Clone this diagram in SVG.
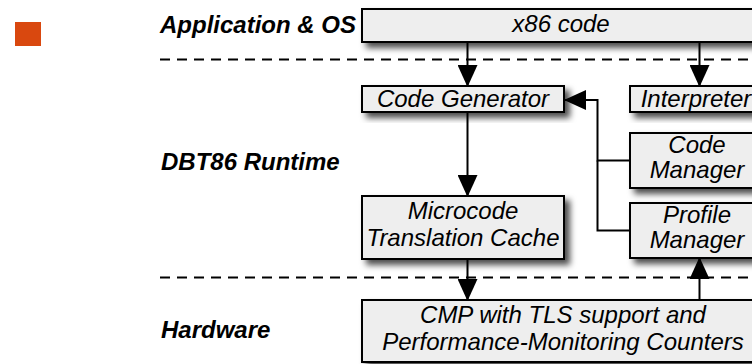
<svg xmlns="http://www.w3.org/2000/svg" width="752" height="364" viewBox="0 0 752 364">
<defs>
<filter id="sh" x="-10%" y="-20%" width="130%" height="160%">
<feDropShadow dx="5" dy="5" stdDeviation="3" flood-color="#000" flood-opacity="0.7"/>
</filter>
<marker id="ah" viewBox="0 0 22 20" refX="21" refY="10" markerWidth="22" markerHeight="20" markerUnits="userSpaceOnUse" orient="auto">
<path d="M0,0 L22,10 L0,20 z" fill="#000"/>
</marker>
</defs>
<style>
.box{fill:#EEEEEE;stroke:#000;stroke-width:2;filter:url(#sh)}
.t{font-family:"Liberation Sans",Arial,sans-serif;font-style:italic;font-size:24px;fill:#000;text-anchor:middle}
.lab{font-family:"Liberation Sans",Arial,sans-serif;font-style:italic;font-weight:bold;font-size:24px;fill:#000}
.dash{stroke:#000;stroke-width:2;stroke-dasharray:10 7;fill:none}
.c{stroke:#000;stroke-width:2;fill:none}
.ca{stroke:#000;stroke-width:2;fill:none;marker-end:url(#ah)}
</style>
<rect x="15" y="22" width="26" height="24" fill="#D9480F"/>
<text class="lab" x="160" y="33">Application &amp; OS</text>
<text class="lab" x="161" y="170">DBT86 Runtime</text>
<text class="lab" x="161" y="338">Hardware</text>
<line class="dash" x1="160" y1="59.5" x2="752" y2="59.5"/>
<line class="dash" x1="160" y1="277.5" x2="752" y2="277.5"/>
<g id="x86">
<rect class="box" x="362" y="9" width="400" height="33"/>
<text class="t" x="561" y="32">x86 code</text>
</g>
<g id="codegen">
<rect class="box" x="362" y="86" width="202" height="26"/>
<text class="t" x="463" y="107">Code Generator</text>
</g>
<g id="interp">
<rect class="box" x="630" y="86" width="140" height="26"/>
<text class="t" x="696" y="107">Interpreter</text>
</g>
<g id="codemgr">
<rect class="box" x="630" y="133" width="140" height="55"/>
<text class="t" x="697" y="153">Code</text>
<text class="t" x="697" y="178">Manager</text>
</g>
<g id="profmgr">
<rect class="box" x="630" y="203" width="140" height="55"/>
<text class="t" x="697" y="223">Profile</text>
<text class="t" x="697" y="248">Manager</text>
</g>
<g id="cache">
<rect class="box" x="362" y="196" width="202" height="63"/>
<text class="t" x="463" y="219">Microcode</text>
<text class="t" x="463" y="246">Translation Cache</text>
</g>
<g id="cmp">
<rect class="box" x="362" y="300" width="400" height="62"/>
<text class="t" x="563" y="323">CMP with TLS support and</text>
<text class="t" x="563" y="350">Performance-Monitoring Counters</text>
</g>
<g id="connectors">
<line class="ca" x1="467.5" y1="42" x2="467.5" y2="86"/>
<line class="ca" x1="699.5" y1="42" x2="699.5" y2="86"/>
<line class="ca" x1="467.5" y1="112" x2="467.5" y2="196"/>
<line class="ca" x1="467.5" y1="259" x2="467.5" y2="300"/>
<line class="ca" x1="699.5" y1="300" x2="699.5" y2="258"/>
<polyline class="ca" points="630,160.5 597.5,160.5 597.5,100 565,100"/>
<polyline class="c" points="630,230.5 597.5,230.5 597.5,160.5"/>
</g>
</svg>
